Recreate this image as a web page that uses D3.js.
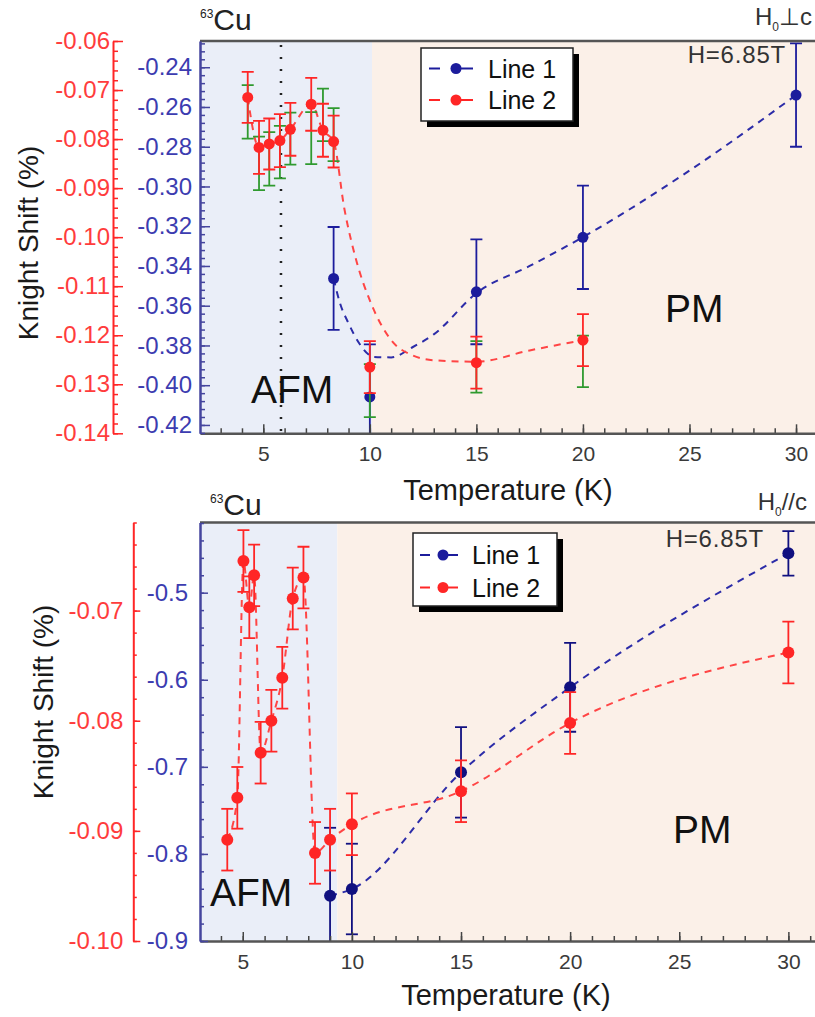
<!DOCTYPE html>
<html>
<head>
<meta charset="utf-8">
<script src="https://cdn.jsdelivr.net/npm/d3@7"></script>
<style>
  body { margin: 0; background: #fff; }
  svg { display: block; }
</style>
</head>
<body>
<svg width="815" height="1017"></svg>
<script>
// ---------- data: H0 perpendicular to c (top panel) ----------
const perpLine1T   = [8.3, 10, 15, 20, 30]
const perpLine1KS  = [-0.3463, -0.4059, -0.3530, -0.3256, -0.2540]
const perpLine1Err = [0.0259, 0.0264, 0.0264, 0.0260, 0.0260]

const perpLine2T   = [4.27, 4.8, 5.28, 5.78, 6.27, 7.25, 7.8, 8.3, 10, 15, 20]
const perpLine2KS  = [-0.0715, -0.0817, -0.0810, -0.0803, -0.0780, -0.0729, -0.0782, -0.0805, -0.1265, -0.1256, -0.1210]
const perpLine2Err = [0.0052, 0.0054, 0.0052, 0.0054, 0.0054, 0.0054, 0.0054, 0.0053, 0.0053, 0.0053, 0.0053]
// second (green) error estimate for line 2
const perpLine2AltHi = [-0.0690, -0.0795, -0.0786, -0.0773, -0.0746, -0.0745, -0.0697, -0.0737, -0.1259, -0.1212, -0.1201]
const perpLine2AltLo = [-0.0799, -0.0904, -0.0895, -0.0880, -0.0852, -0.0851, -0.0804, -0.0845, -0.1367, -0.1317, -0.1306]

// dashed guide curves
const perpFit1T  = [8.3, 8.6, 9.0, 9.5, 10.2, 11, 12, 13, 15, 17.5, 20, 25, 30]
const perpFit1KS = [-0.3463, -0.3587, -0.3688, -0.3789, -0.3858, -0.3860, -0.3809, -0.3744, -0.3537, -0.3400, -0.3255, -0.2920, -0.2540]
const perpFit2T  = [4.27, 4.8, 5.28, 5.78, 6.27, 7.25, 7.8, 8.3, 8.8, 9.4, 10, 11, 12, 13, 15, 17.5, 20]
const perpFit2KS = [-0.0715, -0.0817, -0.0810, -0.0803, -0.0780, -0.0729, -0.0782, -0.0805, -0.0941, -0.1053, -0.1129, -0.1210, -0.1241, -0.1251, -0.1254, -0.1231, -0.1210]

// ---------- data: H0 parallel to c (bottom panel) ----------
const paraLine1T   = [9, 10, 15, 20, 30]
const paraLine1KS  = [-0.848, -0.8403, -0.7063, -0.6087, -0.4548]
const paraLine1Err = [0.078, 0.052, 0.052, 0.051, 0.0255]

const paraLine2T   = [4.29, 4.75, 5.03, 5.3, 5.52, 5.82, 6.31, 6.81, 7.29, 7.78, 8.31, 9.0, 10, 15, 20, 30]
const paraLine2KS  = [-0.0908, -0.0870, -0.0655, -0.0697, -0.0668, -0.0829, -0.0800, -0.0761, -0.0689, -0.0670, -0.0920, -0.0908, -0.0894, -0.0864, -0.0802, -0.0738]
const paraLine2Err = [0.0028, 0.0028, 0.0028, 0.0028, 0.0028, 0.0028, 0.0028, 0.0028, 0.0028, 0.0028, 0.0028, 0.0028, 0.0028, 0.0028, 0.0028, 0.0028]

// ---------- ticks ----------
const tempTicks     = [5, 10, 15, 20, 25, 30]
const perpBlueTicks = [-0.42, -0.40, -0.38, -0.36, -0.34, -0.32, -0.30, -0.28, -0.26, -0.24]
const perpRedTicks  = [-0.14, -0.13, -0.12, -0.11, -0.10, -0.09, -0.08, -0.07, -0.06]
const paraBlueTicks = [-0.9, -0.8, -0.7, -0.6, -0.5]
const paraRedTicks  = [-0.10, -0.09, -0.08, -0.07]
const legendLabels  = ['Line 1', 'Line 2']

const FONT = '"Liberation Sans", Arial, sans-serif'
const BLUE = '#1c1c9c', RED = '#ff2626', GREEN = '#2f9a2f'
const BLUE_TXT = '#3c3cb0', RED_TXT = '#ff3c3c'
const AFM_BG = '#eaeef8', PM_BG = '#fbf0e8'

const svg = d3.select('svg')

function ticksBy(domain, step) {
  const lo = Math.min(...domain), hi = Math.max(...domain)
  return d3.range(Math.ceil(lo / step - 1e-9), Math.floor(hi / step + 1e-9) + 1)
    .map(k => +(k * step).toFixed(6))
}

function yAxis(g, scale, xPos, major, minorStep, len, pad, dec, color, txtColor, fs, width) {
  const a = g.append('g').attr('transform', `translate(${xPos},0)`)
  a.append('g').call(d3.axisLeft(scale).tickValues(ticksBy(scale.domain(), minorStep))
      .tickSize(-len / 2).tickSizeOuter(0).tickFormat(''))
    .call(s => s.select('.domain').remove())
  a.append('g').call(d3.axisLeft(scale).tickValues(major)
      .tickSize(-len).tickSizeOuter(0).tickPadding(pad).tickFormat(d => d.toFixed(dec)))
    .attr('font-family', FONT).attr('font-size', fs)
  a.selectAll('line').attr('stroke', color).attr('stroke-width', 1.5)
  a.selectAll('.domain').attr('stroke', color).attr('stroke-width', width)
  a.selectAll('text').attr('fill', txtColor)
  return a
}

function drawPanel(p) {
  const x = d3.scaleLinear().domain(p.tDomain).range([p.left, p.right])
  const yB = d3.scaleLinear().domain(p.blueDomain).range([p.bottom, p.top])
  const yR = d3.scaleLinear().domain(p.redDomain).range([p.bottom, p.top])
  const w = p.right - p.left, h = p.bottom - p.top
  const g = svg.append('g')

  g.append('clipPath').attr('id', p.id + '-clip')
    .append('rect').attr('x', p.left).attr('y', p.top).attr('width', w).attr('height', h)

  // phase backgrounds
  g.append('rect').attr('x', p.left).attr('y', p.top)
    .attr('width', x(p.afmEdge) - p.left).attr('height', h).attr('fill', AFM_BG)
  g.append('rect').attr('x', x(p.afmEdge)).attr('y', p.top)
    .attr('width', p.right - x(p.afmEdge)).attr('height', h).attr('fill', PM_BG)

  if (p.dotted) {
    g.append('line')
      .attr('x1', x(p.dotted)).attr('x2', x(p.dotted))
      .attr('y1', p.top + 4).attr('y2', p.bottom)
      .attr('stroke', '#222').attr('stroke-width', 2.5).attr('stroke-dasharray', '2,10')
  }

  g.append('text').attr('x', p.afmText[0]).attr('y', p.afmText[1])
    .attr('font-family', FONT).attr('font-size', 39).attr('fill', '#111').text('AFM')
  g.append('text').attr('x', p.pmText[0]).attr('y', p.pmText[1])
    .attr('font-family', FONT).attr('font-size', 39).attr('fill', '#111').text('PM')

  const plot = g.append('g').attr('clip-path', `url(#${p.id}-clip)`)

  // dashed curves
  p.fits.forEach(f => {
    const ys = f.axis === 'red' ? yR : yB
    plot.append('path')
      .datum(d3.zip(f.t, f.ks))
      .attr('d', d3.line().x(d => x(d[0])).y(d => ys(d[1])).curve(d3.curveMonotoneX))
      .attr('fill', 'none').attr('stroke', f.color).attr('stroke-width', 2)
      .attr('stroke-dasharray', '7,6')
  })

  // error bars and points
  const cap = 6
  p.series.forEach(s => {
    const ys = s.axis === 'red' ? yR : yB
    const rows = s.t.map((t, i) => ({ t, v: s.ks[i], lo: s.ks[i] - s.err[i], hi: s.ks[i] + s.err[i],
      alo: s.altLo ? s.altLo[i] : null, ahi: s.altHi ? s.altHi[i] : null }))
    const bars = (sel, lo, hi, color) => {
      const eb = sel.append('g').selectAll('g').data(rows.filter(d => lo(d) != null)).join('g')
        .attr('stroke', color).attr('stroke-width', 1.8)
      eb.append('line').attr('x1', d => x(d.t)).attr('x2', d => x(d.t))
        .attr('y1', d => ys(lo(d))).attr('y2', d => ys(hi(d)))
      eb.append('line').attr('x1', d => x(d.t) - cap).attr('x2', d => x(d.t) + cap)
        .attr('y1', d => ys(lo(d))).attr('y2', d => ys(lo(d)))
      eb.append('line').attr('x1', d => x(d.t) - cap).attr('x2', d => x(d.t) + cap)
        .attr('y1', d => ys(hi(d))).attr('y2', d => ys(hi(d)))
    }
    if (s.altLo) bars(plot, d => d.alo, d => d.ahi, GREEN)
    bars(plot, d => d.lo, d => d.hi, s.color)
    plot.append('g').selectAll('circle').data(rows).join('circle')
      .attr('cx', d => x(d.t)).attr('cy', d => ys(d.v)).attr('r', p.r)
      .attr('fill', s.color)
  })

  // axes
  const xa = g.append('g').attr('transform', `translate(0,${p.bottom})`)
  xa.append('g').call(d3.axisBottom(x).tickValues(ticksBy(p.tDomain, 1)).tickSize(-5).tickSizeOuter(0).tickFormat(''))
    .call(s => s.select('.domain').remove())
  xa.append('g').call(d3.axisBottom(x).tickValues(tempTicks).tickSize(-9).tickSizeOuter(0).tickPadding(13))
    .attr('font-family', FONT).attr('font-size', 21)
  xa.selectAll('line').attr('stroke', '#444').attr('stroke-width', 1.5)
  xa.selectAll('.domain').attr('stroke', '#555').attr('stroke-width', 2.5)
  xa.selectAll('text').attr('fill', '#3a3a3a')

  g.append('line').attr('x1', p.left).attr('x2', p.right).attr('y1', p.top).attr('y2', p.top)
    .attr('stroke', '#555').attr('stroke-width', 2.5)

  yAxis(g, yB, p.left, p.blueTicks, p.blueMinor, p.blueLen, p.bluePad, p.blueDec, '#45459e', BLUE_TXT, 24, 2.5)
  yAxis(g, yR, p.redX, p.redTicks, 0.002, p.redLen, p.redPad, 2, RED, RED_TXT, 24, 2)

  // titles
  g.append('text')
    .attr('transform', `translate(${p.yTitle[0]},${p.yTitle[1]}) rotate(-90)`)
    .attr('text-anchor', 'middle').attr('dy', '0.35em')
    .attr('font-family', FONT).attr('font-size', 28).attr('fill', '#1a1a1a')
    .text('Knight Shift (%)')
  g.append('text').attr('x', p.xTitle[0]).attr('y', p.xTitle[1])
    .attr('text-anchor', 'middle')
    .attr('font-family', FONT).attr('font-size', 29).attr('fill', '#1a1a1a')
    .text('Temperature (K)')

  // corner labels
  const cu = g.append('text').attr('x', p.cu[0]).attr('y', p.cu[1])
    .attr('font-family', FONT).attr('fill', '#222')
  cu.append('tspan').attr('font-size', 12).attr('dy', -12).text('63')
  cu.append('tspan').attr('font-size', 30).attr('dy', 12).text('Cu')

  const hc = g.append('text').attr('x', p.field[0]).attr('y', p.field[1])
    .attr('text-anchor', 'end').attr('font-family', FONT).attr('fill', '#333')
  hc.append('tspan').attr('font-size', 24).text('H')
  hc.append('tspan').attr('font-size', 12).attr('dy', 6).text('0')
  hc.append('tspan').attr('font-size', 24).attr('dy', -6).text(p.fieldDir)

  g.append('text').attr('x', p.hval[0]).attr('y', p.hval[1]).attr('text-anchor', 'end')
    .attr('font-family', FONT).attr('font-size', 24).attr('fill', '#333')
    .attr('letter-spacing', 0.8).text('H=6.85T')

  // legend
  const L = p.legend
  g.append('rect').attr('x', L.x + 6).attr('y', L.y + 6).attr('width', L.w).attr('height', L.h).attr('fill', '#000')
  g.append('rect').attr('x', L.x).attr('y', L.y).attr('width', L.w).attr('height', L.h)
    .attr('fill', '#fff').attr('stroke', '#222').attr('stroke-width', 1.5)
  const colors = [BLUE, RED]
  legendLabels.forEach((lab, i) => {
    const yy = L.rows[i]
    g.append('line').attr('x1', L.dash[0]).attr('x2', L.dash[1]).attr('y1', yy).attr('y2', yy)
      .attr('stroke', colors[i]).attr('stroke-width', 2)
    g.append('line').attr('x1', L.dot).attr('x2', L.seg).attr('y1', yy).attr('y2', yy)
      .attr('stroke', colors[i]).attr('stroke-width', 2)
    g.append('circle').attr('cx', L.dot).attr('cy', yy).attr('r', 5.5).attr('fill', colors[i])
    g.append('text').attr('x', L.textX).attr('y', yy).attr('dy', '0.36em')
      .attr('font-family', FONT).attr('font-size', 25).attr('fill', '#111').text(lab)
  })
}

drawPanel({
  id: 'perp', left: 200, right: 815, top: 41, bottom: 433.3,
  tDomain: [2.03, 30.89], blueDomain: [-0.4242, -0.2268], redDomain: [-0.14, -0.06],
  afmEdge: 10.1, dotted: 5.83, r: 5.5,
  blueTicks: perpBlueTicks, blueMinor: 0.004, blueLen: 10, bluePad: 8, blueDec: 2,
  redX: 113, redTicks: perpRedTicks, redLen: 10, redPad: 3,
  afmText: [251, 403], pmText: [665, 322],
  yTitle: [28, 243], xTitle: [508, 500],
  cu: [200, 30], field: [812, 25], fieldDir: '\u22A5c', hval: [786, 63],
  legend: { x: 421, y: 48, w: 152, h: 73, rows: [68.5, 100], dash: [429, 440], dot: 456, seg: 473, textX: 488 },
  fits: [
    { t: perpFit1T, ks: perpFit1KS, axis: 'blue', color: '#2c2ca8' },
    { t: perpFit2T, ks: perpFit2KS, axis: 'red', color: '#ff4545' }
  ],
  series: [
    { t: perpLine1T, ks: perpLine1KS, err: perpLine1Err, axis: 'blue', color: BLUE },
    { t: perpLine2T, ks: perpLine2KS, err: perpLine2Err, axis: 'red', color: RED,
      altLo: perpLine2AltLo, altHi: perpLine2AltHi }
  ]
})

drawPanel({
  id: 'para', left: 200, right: 815, top: 522.5, bottom: 941,
  tDomain: [3.04, 31.22], blueDomain: [-0.9, -0.4194], redDomain: [-0.10, -0.062],
  afmEdge: 9.33, dotted: null, r: 6,
  blueTicks: paraBlueTicks, blueMinor: 0.02, blueLen: 8, bluePad: 12, blueDec: 1,
  redX: 133.3, redTicks: paraRedTicks, redLen: 7, redPad: 10,
  afmText: [210, 906], pmText: [673, 843],
  yTitle: [43, 702], xTitle: [506, 1005],
  cu: [210, 515], field: [807, 510], fieldDir: '//c', hval: [764, 547],
  legend: { x: 413, y: 533, w: 144, h: 73, rows: [555, 587.5], dash: [420, 430], dot: 443, seg: 458, textX: 472 },
  fits: [
    { t: paraLine1T, ks: paraLine1KS, axis: 'blue', color: '#2c2ca8' },
    { t: paraLine2T, ks: paraLine2KS, axis: 'red', color: '#ff4545' }
  ],
  series: [
    { t: paraLine1T, ks: paraLine1KS, err: paraLine1Err, axis: 'blue', color: '#101080' },
    { t: paraLine2T, ks: paraLine2KS, err: paraLine2Err, axis: 'red', color: RED }
  ]
})
</script>
</body>
</html>
